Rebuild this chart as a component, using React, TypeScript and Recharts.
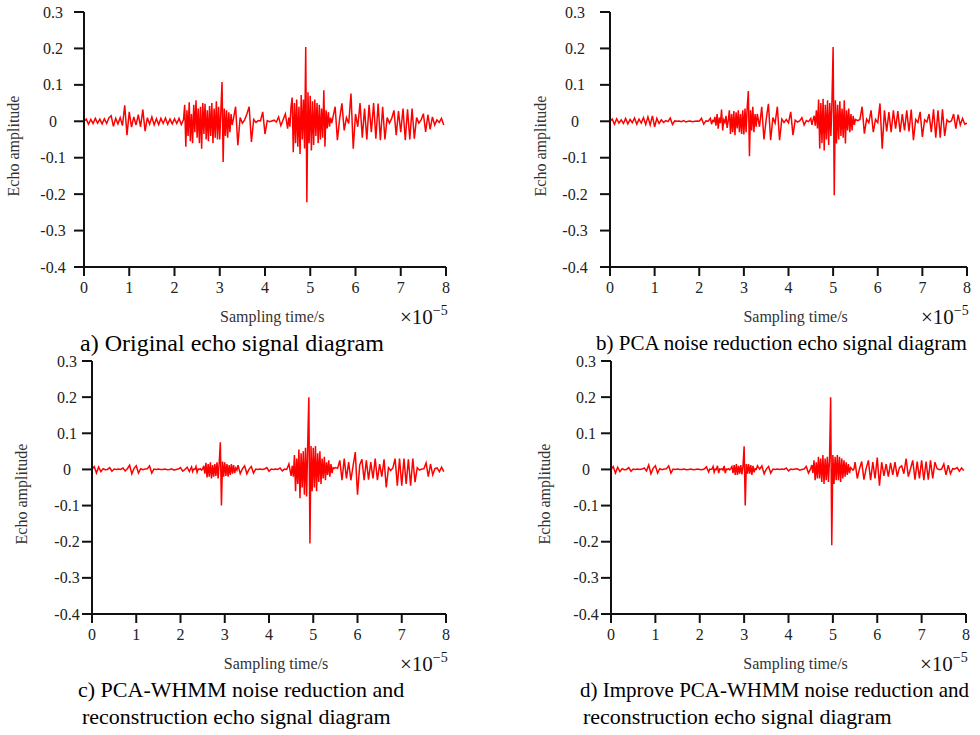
import React from 'react';
import { LineChart, Line, XAxis, YAxis } from 'recharts';

// sampling instants (x 1e-5 s); finer where the echoes are dense
const timeGrid = [
  0, 0.05, 0.1, 0.15, 0.2, 0.25, 0.3, 0.35, 0.4, 0.45, 0.5, 0.55, 0.6, 0.65, 0.7, 0.75, 0.8, 0.85, 0.9, 0.95,
  1, 1.05, 1.1, 1.15, 1.2, 1.25, 1.3, 1.35, 1.4, 1.45, 1.5, 1.55, 1.6, 1.65, 1.7, 1.75, 1.8, 1.85, 1.9, 1.95,
  2, 2.05, 2.1, 2.15, 2.2, 2.225, 2.25, 2.275, 2.3, 2.325, 2.35, 2.375, 2.4, 2.425, 2.45, 2.475, 2.5, 2.525, 2.55, 2.575,
  2.6, 2.625, 2.65, 2.675, 2.7, 2.725, 2.75, 2.775, 2.8, 2.825, 2.85, 2.875, 2.9, 2.925, 2.95, 2.975,
  3, 3.025, 3.05, 3.075, 3.1, 3.125, 3.15, 3.175, 3.2, 3.225, 3.25, 3.275,
  3.3, 3.35, 3.4, 3.45, 3.5, 3.55, 3.6, 3.65, 3.7, 3.75, 3.8, 3.85, 3.9, 3.95,
  4, 4.05, 4.1, 4.15, 4.2, 4.25, 4.3, 4.35, 4.4, 4.45, 4.5,
  4.525, 4.55, 4.575, 4.6, 4.625, 4.65, 4.675, 4.7, 4.725, 4.75, 4.775, 4.8, 4.825, 4.85, 4.875, 4.9, 4.925, 4.95, 4.975,
  5, 5.025, 5.05, 5.075, 5.1, 5.125, 5.15, 5.175, 5.2, 5.225, 5.25, 5.275, 5.3, 5.325, 5.35, 5.375, 5.4, 5.425, 5.45, 5.475,
  5.5, 5.55, 5.6, 5.65, 5.7, 5.75, 5.8, 5.85, 5.9, 5.95,
  6, 6.05, 6.1, 6.15, 6.2, 6.25, 6.3, 6.35, 6.4, 6.45, 6.5, 6.55, 6.6, 6.65, 6.7, 6.75, 6.8, 6.85, 6.9, 6.95,
  7, 7.05, 7.1, 7.15, 7.2, 7.25, 7.3, 7.35, 7.4, 7.45, 7.5, 7.55, 7.6, 7.65, 7.7, 7.75, 7.8, 7.85, 7.9, 7.95,
  8,
];

// a) original echo
const sigA = [
  0, 0.006, -0.008, 0.005, -0.006, 0.008, -0.005, 0.006, -0.007, 0.007, -0.006, 0.009, 0.015, -0.014, 0.008, -0.007, 0.01, -0.012, 0.044, -0.038,
  0.026, -0.016, 0.012, -0.01, 0.018, -0.015, 0.032, -0.027, 0.01, -0.008, 0.012, -0.01, 0.007, -0.009, 0.008, -0.006, 0.009, -0.008, 0.006, -0.007,
  0.007, -0.006, 0.008, -0.009, 0.005, 0.045, -0.07, 0.03, -0.04, 0.052, -0.055, 0.02, -0.06, 0.045, -0.03, 0.058, -0.045, 0.035, -0.06, 0.04,
  -0.075, 0.05, -0.035, 0.048, -0.05, 0.03, -0.055, 0.042, -0.04, 0.05, -0.06, 0.035, -0.045, 0.055, -0.05, 0.04,
  -0.05, 0.03, 0.108, -0.112, 0.035, -0.04, 0.03, -0.045, 0.025, -0.03, 0.02, -0.01,
  0.005, 0.04, -0.066, 0.01, -0.005, 0.004, 0.02, 0.04, -0.057, 0.005, -0.003, 0.002, 0.001, 0.026,
  -0.035, 0.002, -0.001, 0.001, 0.003, -0.002, 0.012, -0.012, 0.004, 0.02, -0.02,
  0.01, -0.015, 0.04, 0.065, -0.085, 0.05, -0.06, 0.06, -0.07, 0.04, -0.09, 0.072, -0.05, 0.06, -0.075, 0.204, -0.222, 0.08, -0.06,
  0.07, -0.08, 0.055, -0.065, 0.06, -0.04, 0.05, -0.06, 0.045, -0.05, 0.035, -0.045, 0.085, -0.07, 0.03, -0.02, 0.025, -0.015, 0.01, -0.005,
  0.01, 0.04, -0.052, 0.008, 0.049, -0.025, 0.01, -0.006, 0.076, -0.075,
  0.02, -0.015, 0.05, -0.045, 0.035, -0.05, 0.045, -0.03, 0.05, -0.048, 0.049, -0.052, 0.04, -0.05, 0.01, -0.005, 0.008, 0.03, -0.038, 0.028,
  -0.03, 0.035, -0.052, 0.033, -0.05, 0.035, -0.048, 0.01, -0.005, 0.004, 0.021, -0.029, 0.018, -0.022, 0.012, -0.01, 0.004, -0.003, 0.008, -0.01,
  null,
];

// b) PCA noise reduction
const sigB = [
  0, 0.006, -0.008, 0.007, -0.005, 0.004, -0.006, 0.008, -0.007, 0.005, -0.004, 0.009, -0.008, 0.006, -0.005, 0.01, -0.009, 0.012, -0.01, 0.015,
  -0.015, 0.008, -0.006, 0.004, -0.003, 0.002, -0.001, 0.009, -0.009, 0.001, 0, 0.001, -0.001, 0.002, -0.002, 0, 0.001, -0.001, 0, 0.001,
  0, 0.008, -0.008, 0.001, 0, 0.004, 0.008, -0.008, 0.002, -0.001, 0.012, -0.012, 0.02, -0.02, 0.01, -0.005, 0.032, -0.025, 0.004, -0.003,
  0.015, -0.018, 0.002, 0.03, -0.035, 0.02, -0.03, 0.028, -0.038, 0.025, -0.02, 0.03, -0.03, 0.02, -0.035, 0.03,
  -0.036, 0.035, -0.03, 0.04, 0.083, -0.096, 0.03, -0.025, 0.04, -0.03, 0.02, -0.015,
  0.02, -0.015, 0.04, -0.05, 0.005, 0.048, -0.052, 0.01, -0.005, 0.04, -0.052, 0.006, -0.003, 0.005,
  -0.004, 0.026, -0.038, 0.003, -0.002, 0.001, 0.01, -0.01, 0.002, -0.001, 0.008,
  -0.01, 0.004, 0.015, -0.012, 0.03, -0.02, 0.06, -0.075, 0.05, -0.06, 0.062, -0.08, 0.045, -0.05, 0.058, -0.065, 0.05, -0.04, 0.06,
  0.204, -0.203, 0.058, -0.061, 0.045, -0.05, 0.055, -0.04, 0.035, -0.045, 0.058, -0.061, 0.03, -0.025, 0.035, -0.03, 0.02, -0.025, 0.015, -0.01,
  0.005, 0.002, 0.005, 0.04, -0.034, 0.006, -0.004, 0.03, -0.03, 0.005,
  -0.004, 0.049, -0.075, 0.03, -0.028, 0.025, -0.03, 0.03, -0.02, 0.028, -0.03, 0.02, -0.025, 0.03, -0.028, 0.032, -0.052, 0.005, -0.003, 0.026,
  -0.043, 0.004, -0.002, 0.02, -0.03, 0.033, -0.045, 0.03, -0.045, 0.033, -0.04, 0.004, -0.002, 0.001, 0.02, -0.02, 0.018, -0.01, 0.008, -0.008,
  -0.005,
];

// c) PCA-WHMM
const sigC = [
  0, 0.008, -0.01, 0.007, -0.006, 0.002, -0.001, 0, 0.005, -0.005, 0.001, 0, 0.001, 0, 0.004, -0.004, 0.002, 0.012, -0.012, 0.003,
  0.01, -0.01, 0.002, -0.001, 0.001, 0.002, 0.01, -0.01, 0.001, 0, 0.001, 0, 0, 0.001, -0.001, 0, 0.002, -0.002, 0, 0.001,
  0.005, -0.005, 0, 0.006, -0.006, 0.001, 0.007, -0.006, 0.001, 0, 0.008, -0.008, 0.001, 0, 0.002, -0.002, 0.001, 0.01, -0.012, 0.018,
  -0.022, 0.015, -0.02, 0.02, -0.025, 0.012, -0.02, 0.015, -0.018, 0.02, -0.025, 0.018, 0.075, -0.1, 0.022, -0.02,
  0.02, -0.018, 0.015, -0.02, 0.012, -0.015, 0.015, -0.012, 0.012, -0.01, 0.004, -0.002,
  0.012, -0.012, 0.002, 0.01, -0.012, 0.001, 0.008, -0.01, 0.001, 0, 0.001, 0, 0.001, 0.005,
  -0.005, 0.001, 0, 0.001, 0, 0.004, -0.004, 0.001, 0, 0.015, -0.018,
  0.01, -0.02, 0.04, -0.06, 0.03, -0.04, 0.055, -0.08, 0.045, -0.05, 0.05, -0.07, 0.06, -0.075, 0.07, 0.2, -0.205, 0.065, -0.06,
  0.06, -0.05, 0.065, -0.06, 0.045, -0.035, 0.05, -0.04, 0.03, -0.025, 0.035, -0.03, 0.02, -0.015, 0.025, -0.02, 0.015, -0.01, 0.005, 0.003,
  0.005, 0.003, 0.025, -0.03, 0.03, -0.025, 0.02, -0.03, 0.01, 0.048,
  -0.07, 0.012, 0.028, -0.03, 0.025, -0.028, 0.02, -0.025, 0.03, -0.03, 0.015, -0.02, 0.028, -0.05, 0.005, -0.003, 0.004, 0.03, -0.045, 0.03,
  -0.045, 0.03, -0.04, 0.028, -0.045, 0.03, -0.035, 0.005, -0.002, 0.001, 0.002, 0.018, -0.02, 0.015, -0.015, 0.002, 0.004, -0.006, 0.006, -0.006,
  null,
];

// d) improved PCA-WHMM
const sigD = [
  0, 0.008, -0.01, 0.006, -0.006, 0.002, -0.001, 0, 0.005, -0.005, 0.001, 0, 0.001, 0, 0.001, 0.004, -0.004, 0.012, -0.012, 0.003,
  0.01, -0.01, 0.002, -0.001, 0.001, 0.002, 0.01, -0.01, 0.001, 0, 0.001, 0, 0, 0.001, -0.001, 0, 0.001, -0.001, 0, 0.001,
  0, -0.001, 0.001, 0.007, -0.007, 0.001, 0, 0.001, 0.008, -0.008, 0.001, 0, 0.01, -0.01, 0.001, 0, 0.002, -0.002, 0.01, -0.01,
  0.001, 0, 0.002, -0.001, 0.003, 0.008, -0.01, 0.012, -0.015, 0.015, -0.015, 0.01, -0.012, 0.012, -0.014, 0.01,
  0.064, -0.1, 0.015, -0.012, 0.015, -0.012, 0.012, -0.015, 0.01, -0.008, 0.002, 0,
  0.01, 0.001, 0.01, -0.012, 0.001, 0.008, -0.01, 0.001, 0, 0.001, 0, 0.001, 0, 0.004,
  -0.004, 0.001, 0, 0.001, 0.002, -0.002, 0, 0.001, 0.008, -0.01, 0.002,
  0.012, -0.01, 0.025, -0.03, 0.02, -0.025, 0.035, -0.025, 0.03, -0.035, 0.04, -0.04, 0.03, -0.03, 0.035, -0.035, 0.03, 0.2, -0.21,
  0.04, -0.04, 0.035, -0.03, 0.04, -0.03, 0.035, -0.035, 0.03, -0.025, 0.025, -0.02, 0.02, -0.015, 0.015, -0.01, 0.005, 0.002, -0.002, 0.001,
  0.02, -0.025, 0.002, 0.022, -0.028, 0.003, 0.025, -0.03, 0.02, -0.025,
  0.033, -0.045, 0.02, -0.018, 0.015, -0.02, 0.018, -0.015, 0.02, -0.02, 0.005, 0.01, -0.012, 0.03, -0.02, 0.002, 0.025, -0.028, 0.022, -0.025,
  0.025, -0.03, 0.022, -0.028, 0.025, -0.025, 0.02, 0.002, -0.001, 0.001, 0.015, -0.015, 0.012, -0.012, 0.002, 0.001, 0.005, -0.005, 0.004, -0.003,
  null,
];

const xTicks = [0, 1, 2, 3, 4, 5, 6, 7, 8];
const yTicks = [-0.4, -0.3, -0.2, -0.1, 0, 0.1, 0.2, 0.3];
const yTickLabels = ['-0.4', '-0.3', '-0.2', '-0.1', '0', '0.1', '0.2', '0.3'];

const data = timeGrid.map((t, i) => ({ t, a: sigA[i], b: sigB[i], c: sigC[i], d: sigD[i] }));

const FONT = '"Liberation Serif", "Times New Roman", serif';

const panels = [
  {
    key: 'a', left: 84, right: 446, top: 12, bottom: 267, yLabelGap: 31, yTitleX: 14,
    caption: [{ text: 'a) Original echo signal diagram', x: 80, y: 343, size: 24 }],
  },
  {
    key: 'b', left: 610, right: 967, top: 12, bottom: 267, yLabelGap: 35, yTitleX: 541,
    caption: [{ text: 'b) PCA noise reduction echo signal diagram', x: 596, y: 343, size: 21 }],
  },
  {
    key: 'c', left: 92, right: 446, top: 361, bottom: 614, yLabelGap: 25, yTitleX: 22,
    caption: [
      { text: 'c) PCA-WHMM noise reduction and', x: 78, y: 690, size: 22 },
      { text: 'reconstruction echo signal diagram', x: 82, y: 717, size: 22 },
    ],
  },
  {
    key: 'd', left: 611, right: 966, top: 361, bottom: 614, yLabelGap: 25, yTitleX: 545,
    caption: [
      { text: 'd) Improve PCA-WHMM noise reduction and', x: 580, y: 690, size: 21 },
      { text: 'reconstruction echo signal diagram', x: 583, y: 717, size: 22 },
    ],
  },
];

const PAD_L = 60;
const PAD_T = 10;
const PAD_R = 20;
const PAD_B = 40;

function Panel({ p }: { p: (typeof panels)[number] }) {
  const plotW = p.right - p.left;
  const plotH = p.bottom - p.top;
  const tickSize = 10;

  const yTick = (props: any) => (
    <text x={props.x} y={props.y} dy="0.35em" textAnchor="middle" fontFamily={FONT} fontSize={16} fill="#222">
      {yTickLabels[props.index]}
    </text>
  );
  const xTick = (props: any) => (
    <text x={props.x} y={props.y} dy="0.71em" textAnchor="middle" fontFamily={FONT} fontSize={16} fill="#222">
      {props.payload.value}
    </text>
  );

  return (
    <>
      <div style={{ position: 'absolute', left: p.left - PAD_L, top: p.top - PAD_T }}>
        <LineChart
          width={plotW + PAD_L + PAD_R}
          height={plotH + PAD_T + PAD_B}
          data={data}
          margin={{ top: PAD_T, right: PAD_R, bottom: 0, left: 0 }}
        >
          <XAxis
            dataKey="t"
            type="number"
            domain={[0, 8]}
            ticks={xTicks}
            allowDataOverflow
            height={PAD_B}
            axisLine={{ stroke: '#111', strokeWidth: 2 }}
            tickLine={{ stroke: '#111', strokeWidth: 2 }}
            tickSize={9}
            tickMargin={6}
            tick={xTick}
          />
          <YAxis
            type="number"
            domain={[-0.4, 0.3]}
            ticks={yTicks}
            allowDataOverflow
            width={PAD_L}
            axisLine={{ stroke: '#111', strokeWidth: 2 }}
            tickLine={{ stroke: '#111', strokeWidth: 2 }}
            tickSize={tickSize}
            tickMargin={p.yLabelGap - tickSize}
            tick={yTick}
          />
          <Line
            type="linear"
            dataKey={p.key}
            stroke="#ff0000"
            strokeWidth={1.5}
            dot={false}
            isAnimationActive={false}
          />
        </LineChart>
      </div>
      <div
        style={{
          position: 'absolute', left: p.yTitleX, top: (p.top + p.bottom) / 2 + 6,
          transform: 'translate(-50%, -50%) rotate(-90deg)', whiteSpace: 'nowrap',
          fontFamily: FONT, fontSize: 16, color: '#333',
        }}
      >
        Echo amplitude
      </div>
      <div
        style={{
          position: 'absolute', left: p.left + plotW * 0.52, top: p.bottom + 50,
          transform: 'translate(-50%, -50%)', whiteSpace: 'nowrap',
          fontFamily: FONT, fontSize: 16, color: '#333',
        }}
      >
        Sampling time/s
      </div>
      <div
        style={{
          position: 'absolute', left: p.right - 46, top: p.bottom + 38,
          whiteSpace: 'nowrap', fontFamily: FONT, fontSize: 21, color: '#111', lineHeight: '24px',
        }}
      >
        ×10<span style={{ fontSize: 14, position: 'relative', top: -9 }}>−5</span>
      </div>
      {p.caption.map((c) => (
        <div
          key={c.text}
          style={{
            position: 'absolute', left: c.x, top: c.y, transform: 'translateY(-50%)',
            whiteSpace: 'nowrap', fontFamily: FONT, fontSize: c.size, color: '#000',
          }}
        >
          {c.text}
        </div>
      ))}
    </>
  );
}

export default function App() {
  return (
    <div style={{ position: 'absolute', left: 0, top: 0, width: 980, height: 735, background: '#fff', overflow: 'hidden' }}>
      {panels.map((p) => (
        <Panel key={p.key} p={p} />
      ))}
    </div>
  );
}
